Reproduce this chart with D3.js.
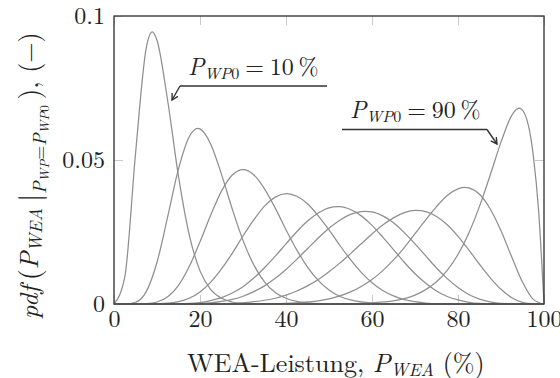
<!DOCTYPE html>
<html>
<head>
<meta charset="utf-8">
<script src="https://cdn.jsdelivr.net/npm/d3@7"></script>
<style>
  html, body { margin: 0; padding: 0; background: #fff; }
  svg { display: block; }
  text, tspan { font-family: "Latin Modern Roman", "DejaVu Serif", serif; fill: #222; }
</style>
</head>
<body>
<svg id="chart" width="560" height="378"></svg>
<script>
// Sampling grid of the wind-turbine output P_WEA (%)
const grid = [0, 2.5, 5, 7.5, 10, 12.5, 15, 17.5, 20, 22.5, 25, 27.5, 30, 32.5, 35, 37.5,
  40, 42.5, 45, 47.5, 50, 52.5, 55, 57.5, 60, 62.5, 65, 67.5, 70, 72.5, 75, 77.5,
  80, 82.5, 85, 87.5, 90, 92.5, 95, 97.5, 100];

// Conditional densities pdf(P_WEA | P_WP = P_WP0), one series per P_WP0
const p10 = [0, 0.0093, 0.0521, 0.0889, 0.0916, 0.0704, 0.0443, 0.0240, 0.0115, 0.0050, 0.0020, 0.0007, 0.0002, 0.0001, 0, 0,
  0, 0, 0, 0, 0, 0, 0, 0, 0, 0, 0, 0, 0, 0, 0, 0, 0, 0, 0, 0, 0, 0, 0, 0, 0];
const p20 = [0, 0, 0.0006, 0.0043, 0.0145, 0.0304, 0.0469, 0.0581, 0.0608, 0.0555, 0.0450, 0.0330, 0.0221, 0.0136, 0.0077, 0.0040,
  0.0020, 0.0009, 0.0004, 0.0001, 0, 0, 0, 0, 0, 0, 0, 0, 0, 0, 0, 0, 0, 0, 0, 0, 0, 0, 0, 0, 0];
const p30 = [0, 0, 0, 0.0001, 0.0007, 0.0025, 0.0065, 0.0130, 0.0216, 0.0309, 0.0392, 0.0448, 0.0467, 0.0449, 0.0400, 0.0333,
  0.0258, 0.0188, 0.0128, 0.0082, 0.0049, 0.0027, 0.0014, 0.0007, 0.0003, 0.0001, 0, 0, 0, 0, 0, 0, 0, 0, 0, 0, 0, 0, 0, 0, 0];
const p40 = [0, 0, 0, 0, 0.0001, 0.0003, 0.0008, 0.0020, 0.0042, 0.0076, 0.0122, 0.0176, 0.0236, 0.0292, 0.0340, 0.0371,
  0.0383, 0.0374, 0.0348, 0.0306, 0.0257, 0.0204, 0.0154, 0.0110, 0.0074, 0.0047, 0.0028, 0.0015, 0.0008, 0.0003, 0.0001, 0.0001,
  0, 0, 0, 0, 0, 0, 0, 0, 0];
const p50 = [0, 0, 0, 0, 0, 0, 0.0001, 0.0002, 0.0005, 0.0012, 0.0022, 0.0038, 0.0060, 0.0090, 0.0126, 0.0166,
  0.0209, 0.0251, 0.0288, 0.0316, 0.0334, 0.0338, 0.0328, 0.0306, 0.0273, 0.0232, 0.0189, 0.0145, 0.0105, 0.0072, 0.0045, 0.0026,
  0.0014, 0.0006, 0.0002, 0.0001, 0, 0, 0, 0, 0];
const p60 = [0, 0, 0, 0, 0, 0, 0, 0.0001, 0.0002, 0.0004, 0.0009, 0.0016, 0.0027, 0.0043, 0.0063, 0.0089,
  0.0120, 0.0155, 0.0192, 0.0229, 0.0263, 0.0291, 0.0311, 0.0321, 0.0320, 0.0306, 0.0282, 0.0248, 0.0209, 0.0167, 0.0125, 0.0088,
  0.0057, 0.0033, 0.0017, 0.0007, 0.0002, 0.0001, 0, 0, 0];
const p70 = [0, 0, 0, 0, 0, 0, 0, 0, 0, 0.0001, 0.0001, 0.0002, 0.0004, 0.0008, 0.0013, 0.0020,
  0.0031, 0.0045, 0.0063, 0.0085, 0.0112, 0.0142, 0.0175, 0.0209, 0.0243, 0.0274, 0.0299, 0.0317, 0.0325, 0.0321, 0.0304, 0.0275,
  0.0235, 0.0188, 0.0138, 0.0091, 0.0051, 0.0022, 0.0006, 0.0001, 0];
const p80 = [0, 0, 0, 0, 0, 0, 0, 0, 0, 0, 0, 0, 0, 0, 0.0001, 0.0001,
  0.0002, 0.0004, 0.0007, 0.0011, 0.0018, 0.0028, 0.0042, 0.0061, 0.0085, 0.0116, 0.0153, 0.0196, 0.0244, 0.0292, 0.0338, 0.0377,
  0.0400, 0.0403, 0.0381, 0.0330, 0.0254, 0.0163, 0.0076, 0.0016, 0];
const p90 = [0, 0, 0, 0, 0, 0, 0, 0, 0, 0, 0, 0, 0, 0, 0, 0,
  0, 0, 0, 0, 0, 0.0001, 0.0001, 0.0002, 0.0004, 0.0007, 0.0011, 0.0019, 0.0031, 0.0050, 0.0077, 0.0117,
  0.0172, 0.0246, 0.0339, 0.0448, 0.0562, 0.0655, 0.0673, 0.0517, 0];

// Location and height of each density's maximum
const modeX = [8.9, 19.5, 30, 40.2, 52, 58.4, 70.4, 81.6, 94.2];
const modeY = [0.0945, 0.061, 0.0467, 0.0383, 0.0338, 0.0322, 0.0325, 0.0405, 0.068];
// steep drop of the 90 % density towards full output
const edgeX = [98.75];
const edgeY = [0.0323];

const xTicks = [0, 20, 40, 60, 80, 100];
const yTicks = [0, 0.05, 0.1];

const FONT = '"Latin Modern Roman", "DejaVu Serif", serif';
const FS = 24;        // tick labels and annotations
const TS = 26;        // axis titles
const svg = d3.select("#chart");
const x = d3.scaleLinear().domain([0, 100]).range([114, 544]);
const y = d3.scaleLinear().domain([0, 0.1]).range([304, 16]);

const tickLen = 9;
const tickColor = "#c9c9c9";

function styleTicks(g) {
  g.select(".domain").remove();
  g.selectAll(".tick line").attr("stroke", tickColor).attr("stroke-width", 1);
}

// inward ticks on all four sides
svg.append("g").attr("transform", `translate(0,${y(0)})`)
  .call(d3.axisBottom(x).tickValues(xTicks).tickSize(-tickLen).tickFormat(""))
  .call(styleTicks);
svg.append("g").attr("transform", `translate(0,${y(0.1)})`)
  .call(d3.axisTop(x).tickValues(xTicks).tickSize(-tickLen).tickFormat(""))
  .call(styleTicks);
svg.append("g").attr("transform", `translate(${x(0)},0)`)
  .call(d3.axisLeft(y).tickValues(yTicks).tickSize(-tickLen).tickFormat(""))
  .call(styleTicks);
svg.append("g").attr("transform", `translate(${x(100)},0)`)
  .call(d3.axisRight(y).tickValues(yTicks).tickSize(-tickLen).tickFormat(""))
  .call(styleTicks);

// tick labels
const xLab = svg.append("g").attr("transform", `translate(0,${y(0)})`)
  .call(d3.axisBottom(x).tickValues(xTicks).tickSize(0).tickPadding(0).tickFormat(d => String(d)));
xLab.attr("font-family", FONT).select(".domain").remove();
xLab.selectAll("text").attr("font-size", FS)
  .attr("fill", "#222").attr("dy", null).attr("y", 23);

const yLab = svg.append("g").attr("transform", `translate(${x(0)},0)`)
  .call(d3.axisLeft(y).tickValues(yTicks).tickSize(0).tickPadding(9).tickFormat(d => String(d)));
yLab.attr("font-family", FONT).select(".domain").remove();
yLab.selectAll("text").attr("font-size", FS)
  .attr("fill", "#222").attr("dy", "0.32em");

// density curves
const series = [p10, p20, p30, p40, p50, p60, p70, p80, p90];
const line = d3.line().x(d => x(d[0])).y(d => y(d[1])).curve(d3.curveMonotoneX);
series.forEach((vals, i) => {
  let pts = grid.map((g, j) => [g, vals[j]]);
  pts = pts.filter(p => Math.abs(p[0] - modeX[i]) > 0.3);
  pts.push([modeX[i], modeY[i]]);
  if (i === 8) edgeX.forEach((e, k) => pts.push([e, edgeY[k]]));
  pts.sort((a, b) => a[0] - b[0]);
  svg.append("path").datum(pts)
    .attr("fill", "none").attr("stroke", "#8f8f8f").attr("stroke-width", 1.25)
    .attr("d", line);
});

// plot frame
svg.append("rect")
  .attr("x", x(0)).attr("y", y(0.1))
  .attr("width", x(100) - x(0)).attr("height", y(0) - y(0.1))
  .attr("fill", "none").attr("stroke", "#3c3c3c").attr("stroke-width", 1.4);

// rich text helper: parts are [text, size, italic, baseline offset]
function rich(sel, parts) {
  let cur = 0;
  sel.attr("font-family", FONT);
  parts.forEach(([t, size, it, off]) => {
    sel.append("tspan").text(t)
      .attr("font-size", size)
      .attr("font-style", it ? "italic" : "normal")
      .attr("dy", (off || 0) - cur);
    cur = off || 0;
  });
  return sel;
}

// axis titles
rich(svg.append("text").attr("x", 187).attr("y", 372), [
  ["WEA-Leistung, ", TS, false, 0],
  ["P", TS, true, 0],
  ["WEA", 18, true, 4],
  [" (%)", TS, false, 0]
]);

rich(svg.append("text").attr("transform", "translate(38,319) rotate(-90)"), [
  ["pdf", TS, true, 0],
  ["\u2009(", 28, false, 1],
  ["P", TS, true, 0],
  ["WEA", 18, true, 4],
  ["\u2009|", 30, false, 2],
  ["P", 18, true, 8],
  ["WP", 13, true, 11],
  ["=", 18, false, 8],
  ["P", 18, true, 8],
  ["WP", 13, true, 11],
  ["0", 13, false, 11],
  ["\u2009)", 28, false, 1],
  [", (\u2212)", TS, false, 0]
]);

// annotations for the outermost densities
const annLabels = ["10", "90"];
const ann = [
  { tx: 188, ty: 74.5, x1: 180, x2: 327, ly: 86, tipX: 172, tipY: 100 },
  { tx: 350, ty: 118, x1: 342, x2: 487, ly: 129.5, tipX: 497, tipY: 144 }
];
ann.forEach((a, i) => {
  rich(svg.append("text").attr("x", a.tx).attr("y", a.ty), [
    ["P", FS, true, 0],
    ["WP", 16, true, 4],
    ["0", 16, false, 4],
    ["\u2005=\u2005" + annLabels[i] + "\u2009%", FS, false, 0]
  ]);
  const from = i === 0 ? a.x1 : a.x2;
  const g = svg.append("g").attr("stroke", "#333").attr("stroke-width", 1.4).attr("fill", "none");
  g.append("path").attr("d", `M${a.x1},${a.ly}H${a.x2}M${from},${a.ly}L${a.tipX},${a.tipY}`);
  const ang = Math.atan2(a.tipY - a.ly, a.tipX - from);
  const L = 7, w = 0.5;
  g.append("path").attr("d",
    `M${a.tipX - L * Math.cos(ang - w)},${a.tipY - L * Math.sin(ang - w)}L${a.tipX},${a.tipY}` +
    `L${a.tipX - L * Math.cos(ang + w)},${a.tipY - L * Math.sin(ang + w)}`);
});
</script>
</body>
</html>
